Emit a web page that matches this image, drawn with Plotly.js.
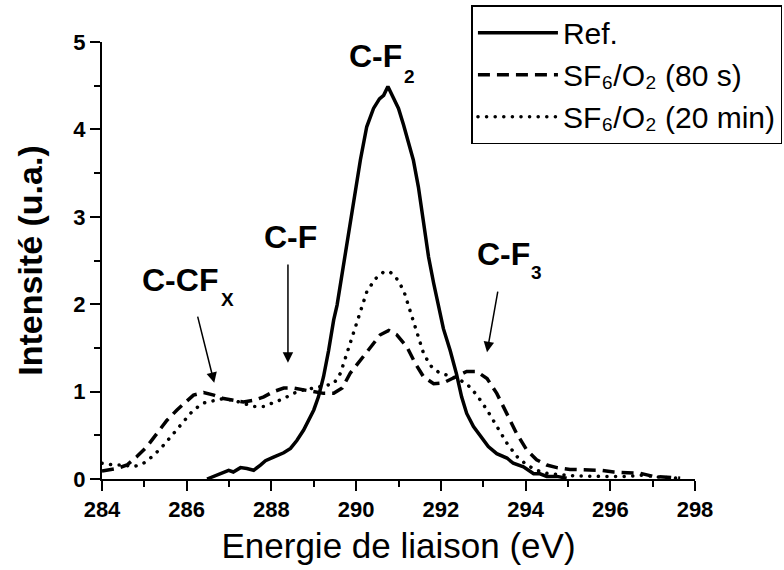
<!DOCTYPE html>
<html>
<head>
<meta charset="utf-8">
<script src="https://cdn.plot.ly/plotly-3.0.1.min.js"></script>
<style>html,body{margin:0;padding:0;background:#fff;}#chart{width:784px;height:570px;}</style>
</head>
<body>
<div id="chart"></div>
<script>
// Binding energy (eV) and intensity (u.a.)
const refEnergy = [286.48, 286.71, 286.99, 287.1, 287.27, 287.42, 287.58, 287.74, 287.86, 288.05, 288.29, 288.45, 288.6, 288.76, 289.0, 289.11, 289.23, 289.35, 289.47, 289.55, 289.67, 289.78, 289.94, 290.1, 290.25, 290.41, 290.55, 290.65, 290.75, 290.88, 291.0, 291.12, 291.24, 291.35, 291.47, 291.59, 291.71, 291.83, 291.94, 292.06, 292.22, 292.37, 292.49, 292.61, 292.77, 292.92, 293.12, 293.32, 293.56, 293.71, 293.95, 294.07, 294.19, 294.34, 294.5, 294.74, 294.97];
const refIntensity = [0, 0.05, 0.10, 0.08, 0.13, 0.12, 0.10, 0.16, 0.21, 0.25, 0.30, 0.35, 0.44, 0.56, 0.79, 0.94, 1.17, 1.47, 1.82, 1.99, 2.35, 2.73, 3.19, 3.65, 4.03, 4.24, 4.35, 4.39, 4.49, 4.35, 4.24, 4.05, 3.85, 3.65, 3.34, 2.96, 2.54, 2.24, 1.97, 1.72, 1.47, 1.20, 0.94, 0.75, 0.60, 0.50, 0.37, 0.29, 0.24, 0.18, 0.14, 0.10, 0.06, 0.06, 0.03, 0.03, 0.01];

const sf80Energy = [284, 284.35, 284.59, 284.83, 285.06, 285.3, 285.53, 285.77, 285.97, 286.16, 286.4, 286.64, 286.87, 287.11, 287.34, 287.58, 287.82, 288.05, 288.29, 288.52, 288.76, 289.0, 289.23, 289.47, 289.67, 289.86, 290.1, 290.33, 290.57, 290.77, 290.96, 291.2, 291.4, 291.59, 291.83, 292.06, 292.3, 292.61, 292.85, 293.09, 293.32, 293.56, 293.79, 294.03, 294.26, 294.5, 294.74, 295.05, 295.44, 295.76, 296.08, 296.39, 296.71, 297.02, 297.34, 297.65];
const sf80Intensity = [0.09, 0.12, 0.16, 0.26, 0.37, 0.52, 0.67, 0.79, 0.88, 0.96, 0.99, 0.96, 0.92, 0.90, 0.88, 0.90, 0.94, 1.00, 1.04, 1.04, 1.02, 1.00, 0.98, 0.98, 1.04, 1.21, 1.36, 1.51, 1.65, 1.70, 1.65, 1.51, 1.32, 1.17, 1.09, 1.10, 1.16, 1.23, 1.23, 1.15, 0.98, 0.75, 0.52, 0.33, 0.22, 0.16, 0.13, 0.11, 0.10, 0.10, 0.08, 0.07, 0.065, 0.03, 0.02, 0.01];

const sf20Energy = [284, 284.28, 284.51, 284.75, 284.98, 285.22, 285.46, 285.69, 285.93, 286.16, 286.4, 286.64, 286.87, 287.11, 287.34, 287.58, 287.82, 288.05, 288.29, 288.52, 288.76, 289.0, 289.23, 289.47, 289.63, 289.78, 289.94, 290.1, 290.25, 290.45, 290.65, 290.8, 290.96, 291.12, 291.28, 291.44, 291.59, 291.75, 291.95, 292.14, 292.38, 292.61, 292.85, 293.09, 293.32, 293.56, 293.79, 294.03, 294.26, 294.5, 294.81, 295.2, 295.76, 296.39, 296.78, 297.17, 297.57];
const sf20Intensity = [0.18, 0.16, 0.16, 0.14, 0.18, 0.27, 0.39, 0.52, 0.67, 0.79, 0.87, 0.90, 0.92, 0.90, 0.87, 0.83, 0.83, 0.87, 0.92, 0.98, 1.02, 1.04, 1.06, 1.09, 1.21, 1.44, 1.67, 1.93, 2.14, 2.29, 2.37, 2.37, 2.29, 2.16, 1.93, 1.67, 1.44, 1.30, 1.22, 1.19, 1.15, 1.09, 0.96, 0.79, 0.60, 0.41, 0.26, 0.16, 0.10, 0.065, 0.05, 0.035, 0.03, 0.03, 0.045, 0.02, 0.01];

const seriesNames = ["Ref.", "SF\u2086/O\u2082 (80 s)", "SF\u2086/O\u2082 (20 min)"];
const xTickValues = [284, 286, 288, 290, 292, 294, 296, 298];
const yTickValues = [0, 1, 2, 3, 4, 5];
const peakLabels = ["C-CF", "C-F", "C-F", "C-F"];
const peakSubscripts = ["X", "2", "3"];

const FONT = "Liberation Sans, Arial, Helvetica, sans-serif";

const traces = [
  {x: refEnergy, y: refIntensity, name: seriesNames[0], mode: "lines",
   line: {color: "#000", width: 3.5, dash: "solid"}},
  {x: sf80Energy, y: sf80Intensity, name: seriesNames[1], mode: "lines",
   line: {color: "#000", width: 3.5, dash: "12px,7px"}},
  {x: sf20Energy, y: sf20Intensity, name: seriesNames[2], mode: "lines",
   line: {color: "#000", width: 3.5, dash: "4px,5px"}}
];

const labelFont = {family: FONT, size: 32, color: "#000", weight: "bold"};
const subFont = {family: FONT, size: 19, color: "#000", weight: "bold"};
const arrowStyle = {showarrow: true, arrowhead: 2, arrowsize: 1.4, arrowwidth: 1.5, arrowcolor: "#000",
  axref: "x", ayref: "y", xref: "x", yref: "y", text: ""};
const txt = (x, y, xanchor, text, font) => ({x, y, xref: "x", yref: "y", xanchor, yanchor: "middle",
  showarrow: false, text, font});

const layout = {
  width: 784, height: 570,
  margin: {l: 102, r: 89, t: 42, b: 91, autoexpand: false},
  paper_bgcolor: "#fff", plot_bgcolor: "#fff",
  font: {family: FONT, color: "#000"},
  showlegend: true,
  legend: {x: 0.623, y: 1.084, xanchor: "left", yanchor: "top",
    font: {family: FONT, size: 30, color: "#000"},
    bordercolor: "#000", borderwidth: 1.5, bgcolor: "#fff",
    itemwidth: 80, tracegroupgap: 0},
  xaxis: {
    range: [284, 298], tickmode: "array", tickvals: xTickValues, ticktext: xTickValues.map(String),
    ticks: "outside", ticklen: 10, tickwidth: 2, tickcolor: "#000",
    minor: {dtick: 1, tick0: 284, ticks: "outside", ticklen: 6, tickwidth: 2, tickcolor: "#000"},
    showline: true, linewidth: 2, linecolor: "#000", mirror: false,
    showgrid: false, zeroline: false,
    tickfont: {family: FONT, size: 22, weight: "bold", color: "#000"},
    title: {text: "Energie de liaison (eV)", font: {family: FONT, size: 35, color: "#000"}, standoff: 12}
  },
  yaxis: {
    range: [0, 5], tickmode: "array", tickvals: yTickValues, ticktext: yTickValues.map(String),
    ticks: "outside", ticklen: 10, tickwidth: 2, tickcolor: "#000",
    minor: {dtick: 0.5, tick0: 0, ticks: "outside", ticklen: 6, tickwidth: 2, tickcolor: "#000"},
    showline: true, linewidth: 2, linecolor: "#000", mirror: false,
    showgrid: false, zeroline: false,
    tickfont: {family: FONT, size: 22, weight: "bold", color: "#000"},
    title: {text: "Intensité (u.a.)", font: {family: FONT, size: 34, weight: "bold", color: "#000"}, standoff: 20}
  },
  annotations: [
    txt(284.904, 2.275, "left", peakLabels[0], labelFont),
    txt(286.96, 2.05, "center", peakSubscripts[0], subFont),
    txt(288.455, 2.773, "center", peakLabels[1], labelFont),
    txt(289.788, 4.842, "left", peakLabels[2], labelFont),
    txt(291.25, 4.60, "center", peakSubscripts[1], subFont),
    txt(292.808, 2.578, "left", peakLabels[3], labelFont),
    txt(294.26, 2.36, "center", peakSubscripts[2], subFont),
    Object.assign({x: 286.65, y: 1.10, ax: 286.25, ay: 1.875}, arrowStyle),
    Object.assign({x: 288.39, y: 1.33, ax: 288.39, ay: 2.47}, arrowStyle),
    Object.assign({x: 293.09, y: 1.45, ax: 293.35, ay: 2.16}, arrowStyle)
  ]
};

function polish() {
  // round dots for the dotted series (plot and legend)
  document.querySelectorAll("#chart path").forEach(p => {
    const da = (p.style.strokeDasharray || "").replace(/\s/g, "");
    if (da === "4px,5px") {
      p.style.strokeDasharray = "0.1px,8.5px";
      p.style.strokeLinecap = "round";
    }
  });
}

Plotly.newPlot("chart", traces, layout, {displayModeBar: false, staticPlot: true}).then(polish);
</script>
</body>
</html>
